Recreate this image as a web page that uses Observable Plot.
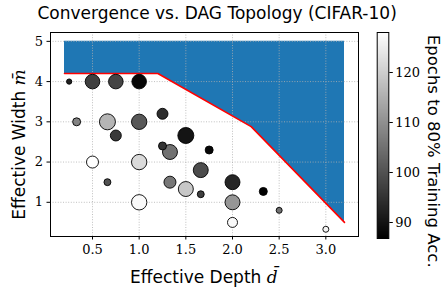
<!DOCTYPE html>
<html><head><meta charset="utf-8">
<script src="https://cdn.jsdelivr.net/npm/d3@7"></script>
<script src="https://cdn.jsdelivr.net/npm/@observablehq/plot@0.6"></script>
<style>
body{margin:0;background:#fff;}
#wrap{position:relative;width:443px;height:288px;overflow:hidden;font-family:"DejaVu Sans",sans-serif;color:#000;}
#wrap svg{position:absolute;top:0;}
.lbl{position:absolute;white-space:nowrap;font-size:16px;line-height:1;}
.m{font-family:"DejaVu Serif",serif;font-style:italic;}
</style></head><body><div id="wrap"></div>
<script>
// effective depth d̄ of each DAG
const depth  = [0.25, 0.5, 0.75, 1.0, 0.33, 0.66, 1.0, 0.75, 1.25, 1.5, 1.25, 1.33, 1.75, 0.5, 1.0, 1.66, 0.66, 1.33, 1.5, 1.66, 2.0, 1.0, 2.0, 2.0, 2.33, 2.5, 3.0];
// effective width m̄ of each DAG
const widthM = [4.0, 4.0, 4.0, 4.0, 3.0, 3.0, 3.0, 2.66, 3.2, 2.66, 2.4, 2.25, 2.3, 2.0, 2.0, 1.8, 1.5, 1.5, 1.33, 1.2, 1.5, 1.0, 1.0, 0.5, 1.27, 0.8, 0.33];
// epochs to 80% training accuracy
const epochs = [92, 97, 98, 88, 108, 116, 101, 96, 94, 90, 95, 105, 88, 128, 122, 99, 100, 106, 119, 97, 93, 127, 111, 127, 87, 105, 126];
// relative model size (marker area)
const modelSize = [7, 53, 53, 53, 16, 64, 59, 30, 30, 64, 16, 56, 16, 36, 59, 56, 12, 36, 56, 12, 56, 59, 56, 25, 16, 9, 9];
// feasible-region boundary
const boundDepth = [0.2, 1.2, 2.2, 3.2];
const boundWidth = [4.2, 4.2, 2.88, 0.5];
const regionTop = 5;
// ticks
const xTicks = [0.5, 1.0, 1.5, 2.0, 2.5, 3.0];
const yTicks = [1, 2, 3, 4, 5];
const cTicks = [90, 100, 110, 120];
const cDomain = [86.8, 128];

const pts = depth.map((d, i) => ({d, m: widthM[i], e: epochs[i], s: modelSize[i]}));
const region = boundDepth.map((d, i) => ({d, m: boundWidth[i]}));
const colorOpt = {type: "linear", domain: cDomain, range: ["black", "white"], interpolate: "rgb"};
const gridStyle = {stroke: "#b0b0b0", strokeOpacity: 1, strokeDasharray: "1,1.6", strokeWidth: 0.8};

const main = Plot.plot({
  width: 370, height: 288,
  marginLeft: 50, marginRight: 12, marginTop: 32, marginBottom: 52,
  style: {fontFamily: "'DejaVu Serif', serif", fontSize: "13px", background: "transparent", overflow: "visible"},
  x: {domain: [0.05, 3.35]},
  y: {domain: [0.15, 5.22]},
  color: colorOpt,
  r: {type: "sqrt", domain: [0, 64], range: [0, 8]},
  marks: [
    Plot.areaY(region, {x: "d", y1: "m", y2: regionTop, fill: "#1f77b4", curve: "linear"}),
    Plot.gridX(xTicks, gridStyle),
    Plot.gridY(yTicks, gridStyle),
    Plot.line(region, {x: "d", y: "m", stroke: "red", strokeWidth: 1.6}),
    Plot.dot(pts, {x: "d", y: "m", r: "s", fill: "e", stroke: "black", strokeWidth: 0.9}),
    Plot.axisX(xTicks, {tickSize: 3.5, tickPadding: 5, tickFormat: d3.format(".1f"), label: null}),
    Plot.axisY(yTicks, {tickSize: 3.5, tickPadding: 4, tickFormat: d3.format("d"), label: null}),
    Plot.frame({stroke: "black", strokeWidth: 1})
  ]
});
main.style.left = "0px";

const cbar = Plot.plot({
  width: 78, height: 288,
  marginLeft: 11.7, marginRight: 54.7, marginTop: 32, marginBottom: 50,
  style: {fontFamily: "'DejaVu Serif', serif", fontSize: "13px", background: "transparent", overflow: "visible"},
  x: {domain: [0, 1], axis: null},
  y: {domain: cDomain},
  color: colorOpt,
  marks: [
    Plot.raster({fill: (x, y) => y, x1: 0, x2: 1, y1: cDomain[0], y2: cDomain[1], width: 1, height: 206, imageRendering: "auto"}),
    Plot.axisY(cTicks, {anchor: "right", tickSize: 3.5, tickPadding: 3, label: null}),
    Plot.frame({stroke: "black", strokeWidth: 1})
  ]
});
cbar.style.left = "365px";

const wrap = document.getElementById("wrap");
wrap.appendChild(main);
wrap.appendChild(cbar);

function addLabel(html, cx, cy, rot, size) {
  const el = document.createElement("div");
  el.className = "lbl";
  el.innerHTML = html;
  if (size) el.style.fontSize = size + "px";
  wrap.appendChild(el);
  const w = el.offsetWidth, h = el.offsetHeight;
  el.style.left = (cx - w / 2) + "px";
  el.style.top = (cy - h / 2) + "px";
  if (rot) el.style.transform = `rotate(${rot}deg)`;
}
addLabel("Convergence vs. DAG Topology (CIFAR-10)", 217, 13, 0, 17);
addLabel('Effective Depth <span class="m">d&#772;</span>', 204, 277, 0, 17);
addLabel('Effective Width <span class="m">m&#772;</span>', 19, 144, -90, 17);
addLabel("Epochs to 80% Training Acc.", 432, 151, 90, 16.5);
</script></body></html>
